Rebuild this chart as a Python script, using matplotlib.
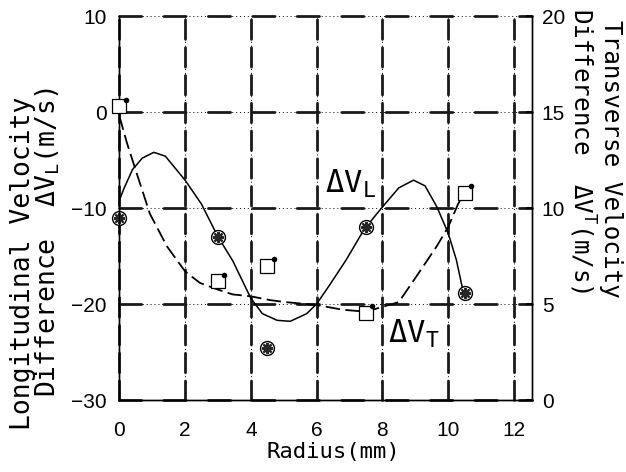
import matplotlib
matplotlib.use('Agg')
import matplotlib.pyplot as plt
from matplotlib.transforms import ScaledTranslation

# Measured points
radius = [0, 3, 4.5, 7.5, 10.5]
dv_long = [-11, -13, -24.6, -12, -18.9]
dv_trans = [15.3, 6.2, 7.0, 4.55, 10.8]

# Fitted curves
fit_long_x = [0, 0.15, 0.4, 0.7, 1.05, 1.4, 2.0, 2.5, 3.0, 3.45, 4.0, 4.35, 4.8,
              5.2, 5.7, 6.0, 6.4, 6.9, 7.45, 8.0, 8.5, 8.95, 9.3, 9.66, 10.0,
              10.25, 10.47]
fit_long_y = [-9.2, -7.9, -6.0, -4.8, -4.2, -4.6, -7.1, -9.6, -13.0, -15.5, -19.4,
              -21.0, -21.7, -21.8, -21.0, -20.0, -18.0, -15.4, -12.2, -9.9, -7.9,
              -7.1, -7.7, -9.9, -12.6, -15.4, -18.9]
fit_trans_x = [0, 0.23, 0.53, 0.93, 1.45, 2.0, 2.45, 3.0, 3.45, 4.0, 4.6, 5.05,
               6.0, 6.8, 7.5, 8.0, 8.5, 9.1, 9.65, 10.0, 10.3, 10.5]
fit_trans_y = [14.8, 13.4, 11.8, 9.7, 8.0, 6.7, 6.1, 5.75, 5.5, 5.4, 5.2, 5.1,
               4.95, 4.7, 4.6, 4.85, 5.1, 6.6, 8.0, 9.0, 10.2, 10.8]

x_ticks = [0, 2, 4, 6, 8, 10, 12]
left_ticks = [-30, -20, -10, 0, 10]
right_ticks = [0, 5, 10, 15, 20]

MONO = 'DejaVu Sans Mono'
TICKS = 'Liberation Sans'

plt.rcParams['mathtext.fontset'] = 'custom'
plt.rcParams['mathtext.rm'] = MONO
plt.rcParams['mathtext.it'] = MONO

fig = plt.figure(figsize=(6.26, 4.72), dpi=100)
ax = fig.add_axes([0.1906, 0.1525, 0.6592, 0.8136])
ax.set_xlim(0, 12.55)
ax.set_ylim(-30, 10)
ax2 = ax.twinx()
ax2.set_ylim(0, 20)


def grid_line(draw, pos, dashes):
    # beaded look: thin dots under heavier dashes
    draw(pos, color='k', lw=0.7, linestyle=(0, (1, 3)), zorder=1, clip_on=False)
    draw(pos, color='0.1', lw=2.0, linestyle=(0, dashes), dash_capstyle='round',
         zorder=1, clip_on=False)


for xv in x_ticks:
    grid_line(ax.axvline, xv, (7, 3))
for yv in left_ticks:
    grid_line(ax.axhline, yv, (8, 8))

ax.plot(fit_long_x, fit_long_y, color='k', lw=1.1, zorder=3)
ax2.plot(fit_trans_x, fit_trans_y, color='k', lw=1.3, linestyle=(0, (8, 3)), zorder=3)

# hatched circles for the longitudinal data
ax.plot(radius, dv_long, 'o', ms=10, mfc='white', mec='k', mew=1.0, zorder=5, clip_on=False)
ax.plot(radius, dv_long, marker=(8, 2, 0), ls='none', ms=8, mec='0.15', mew=1.6,
        zorder=6, clip_on=False)

# open squares for the transverse data
ax2.plot(radius, dv_trans, 's', ms=9.5, mfc='white', mec='k', mew=0.9, zorder=5, clip_on=False)
corner = ax2.transData + ScaledTranslation(4.5 / 72, 4.5 / 72, fig.dpi_scale_trans)
ax2.plot(radius, dv_trans, 'o', ms=3, color='k', transform=corner, zorder=6, clip_on=False)

for a in (ax, ax2):
    a.spines['top'].set_visible(False)
    for side in ('left', 'right', 'bottom'):
        a.spines[side].set_linewidth(1.0)

ax.set_xticks(x_ticks)
ax.set_yticks(left_ticks)
ax.set_yticklabels([str(v).replace('-', '\u2212') for v in left_ticks])
ax2.set_yticks(right_ticks)
ax.tick_params(axis='x', length=0, pad=15, labelsize=15)
ax.tick_params(axis='y', length=0, pad=9, labelsize=15)
ax2.tick_params(axis='y', direction='in', length=4, width=1.2, pad=7, labelsize=15)
for lab in ax.get_xticklabels() + ax.get_yticklabels() + ax2.get_yticklabels():
    lab.set_family(TICKS)

# axis titles
fig.text(0.532, 0.042, 'Radius(mm)', family=MONO, fontsize=16, ha='center', va='center')
fig.text(23 / 626, 1 - 430 / 472, 'Longitudinal Velocity', family=MONO, fontsize=19,
         rotation=90, rotation_mode='anchor', ha='left', va='center')
fig.text(48 / 626, 1 - 397 / 472, 'Difference  \u0394V$_{\\rm L}$(m/s)', family=MONO,
         fontsize=19, rotation=90, rotation_mode='anchor', ha='left', va='center')
fig.text(611 / 626, 1 - 20 / 472, 'Transverse Velocity', family=MONO, fontsize=17.5,
         rotation=270, rotation_mode='anchor', ha='left', va='center')
fig.text(582 / 626, 1 - 8 / 472, 'Difference  \u0394V$^{\\rm T}$(m/s)', family=MONO,
         fontsize=17.5, rotation=270, rotation_mode='anchor', ha='left', va='center')

# curve labels
ax.text(6.26, -8.44, '\u0394V$_{\\rm L}$', family=MONO, fontsize=22, ha='left',
        va='baseline', zorder=7)
ax.text(8.18, -24.06, '\u0394V$_{\\rm T}$', family=MONO, fontsize=22, ha='left',
        va='baseline', zorder=7)

fig.savefig('out.png', dpi=100)
